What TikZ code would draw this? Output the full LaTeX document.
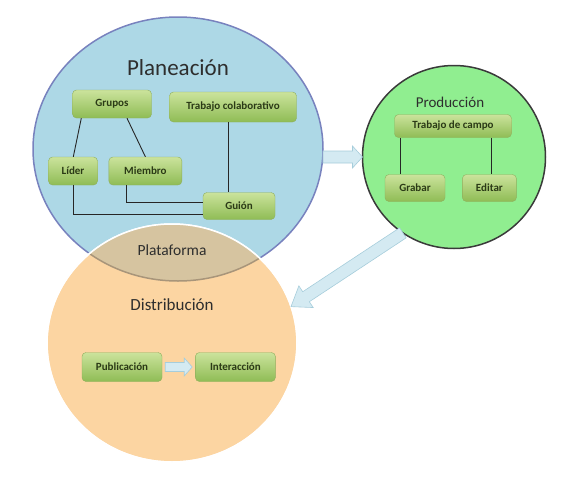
\documentclass[tikz,border=0pt]{standalone}
\usepackage{fontspec}
\setmainfont{Carlito}
\usetikzlibrary{positioning,shapes.geometric,calc}

\definecolor{plnfill}{HTML}{ADD8E6}
\definecolor{plnedge}{HTML}{7882BE}
\definecolor{prdfill}{HTML}{90EE90}
\definecolor{prdedge}{HTML}{3A3A3A}
\definecolor{dstfill}{HTML}{FCD5A2}
\definecolor{lensfill}{HTML}{D6C4A0}
\definecolor{lensedge}{HTML}{A8957A}
\definecolor{boxtop}{HTML}{CBE39C}
\definecolor{boxbottom}{HTML}{8FBC55}
\definecolor{boxedge}{HTML}{8FAE5D}
\definecolor{boxtext}{HTML}{2B3A16}
\definecolor{arrfill}{HTML}{D4EAF2}
\definecolor{arredge}{HTML}{A6CDDB}
\definecolor{titlegray}{HTML}{2E2E2E}

\tikzset{
    %Define style for the big circles
    zone/.style={
           ellipse,
           inner sep=0pt,
           outer sep=0pt,
           line width=1.5pt},
    %Define style for circle titles
    title/.style={
           text=titlegray,
           inner sep=0pt},
    %Define style for boxes
    box/.style={
           rectangle,
           rounded corners=4pt,
           draw=boxedge,
           top color=boxtop,
           bottom color=boxbottom,
           text=boxtext,
           font=\fontsize{11}{13}\selectfont\bfseries,
           inner sep=0pt,
           minimum height=28pt},
    % Define line style
    link/.style={
           draw=black!85,
           line width=0.9pt},
    % Define block arrow style (shaft, head, head length)
    blockarr/.style n args={3}{
           fill=arrfill,
           draw=arredge,
           line width=0.6pt,
           to path={
             ($(\tikztostart)!#1!90:(\tikztotarget)$)
             -- ($(\tikztotarget)!#3!(\tikztostart)!#1!-90:(\tikztostart)$)
             -- ($(\tikztotarget)!#3!(\tikztostart)!#2!-90:(\tikztostart)$)
             -- (\tikztotarget)
             -- ($(\tikztotarget)!#3!(\tikztostart)!#2!90:(\tikztostart)$)
             -- ($(\tikztotarget)!#3!(\tikztostart)!#1!90:(\tikztostart)$)
             -- ($(\tikztostart)!#1!-90:(\tikztotarget)$)
             -- cycle}}
}

\begin{document}
\begin{tikzpicture}[x=1pt,y=-1pt]
  \useasboundingbox (0,0) rectangle (587,480);

  % the three zones
  \node[zone, fill=plnfill, draw=plnedge, minimum width=290pt, minimum height=264pt] (pln) at (178,149) {};
  \node[zone, fill=dstfill, draw=white, minimum width=250pt, minimum height=238pt] (dst) at (172,343) {};
  \begin{scope}
    \clip (dst.center) ellipse [x radius=125pt, y radius=119pt];
    \fill[lensfill] (pln.center) ellipse [x radius=145pt, y radius=132pt];
    \draw[lensedge, line width=1.5pt] (pln.center) ellipse [x radius=145pt, y radius=132pt];
  \end{scope}
  \draw[white, line width=1.5pt] (dst.center) ellipse [x radius=125pt, y radius=119pt];
  \node[zone, fill=prdfill, draw=prdedge, minimum size=183pt] (prd) at (454,157) {};

  \node[title, font=\fontsize{23}{27}\selectfont] (pln-title) at (178,68) {Planeación};
  \node[title, font=\fontsize{15}{18}\selectfont] (prd-title) at (450,102) {Producción};
  \node[title, font=\fontsize{17}{20}\selectfont] (dst-title) at (172,305) {Distribución};
  \node[title, font=\fontsize{15.5}{18}\selectfont] (lens-title) at (172,250) {Plataforma};

  % Planeacion
  \node[box, minimum width=79pt] (grupos) at (112,104) {Grupos};
  \node[box, minimum width=127pt, minimum height=30pt] (trabajo) at (233,107) {Trabajo colaborativo};
  \node[box, minimum width=49pt] (lider) at (73,171) {Líder};
  \node[box, minimum width=73pt, right=11pt of lider] (miembro) {Miembro};
  \node[box, minimum width=72pt, minimum height=27pt] (guion) at (239,206) {Guión};

  \draw[link] ([xshift=9pt]grupos.south west) -- ([xshift=25pt]lider.north west);
  \draw[link] ([xshift=15pt]grupos.south) -- (miembro.north);
  \draw[link] ([xshift=-5pt]trabajo.south) -- ([xshift=-5pt]trabajo.south |- guion.north);
  \draw[link] ([xshift=18pt]miembro.south west) |- ([yshift=4pt]guion.west);
  \draw[link] (lider.south) |- ([yshift=-8pt]guion.west);

  % Produccion
  \node[box, minimum width=117pt, minimum height=23pt] (campo) at (453,126) {Trabajo de campo};
  \node[box, minimum width=60pt, minimum height=27pt] (grabar) at (415,188) {Grabar};
  \node[box, minimum width=54pt, minimum height=27pt, right=17pt of grabar] (editar) {Editar};

  \draw[link] ([xshift=6pt]campo.south west) -- ([xshift=6pt]campo.south west |- grabar.north);
  \draw[link] ([xshift=-20pt]campo.south east) -- ([xshift=-20pt]campo.south east |- editar.north);

  % Distribucion
  \node[box, minimum width=80pt, minimum height=29pt] (public) at (122,367) {Publicación};
  \node[box, minimum width=80pt, minimum height=29pt, right=33pt of public] (interac) {Interacción};

  \coordinate (public-out) at ([xshift=3pt]public.east);
  \coordinate (interac-in) at ([xshift=-3pt]interac.west);
  \draw[blockarr={4.5pt}{9pt}{8pt}] (public-out) to (interac-in);

  % flow between the zones
  \coordinate (pln-out) at (pln.east |- prd.west);
  \draw[blockarr={6pt}{11pt}{10pt}] (pln-out) to (prd.west);
  \draw[blockarr={6pt}{13pt}{18pt}] (prd.236) to (dst.17);
\end{tikzpicture}
\end{document}
